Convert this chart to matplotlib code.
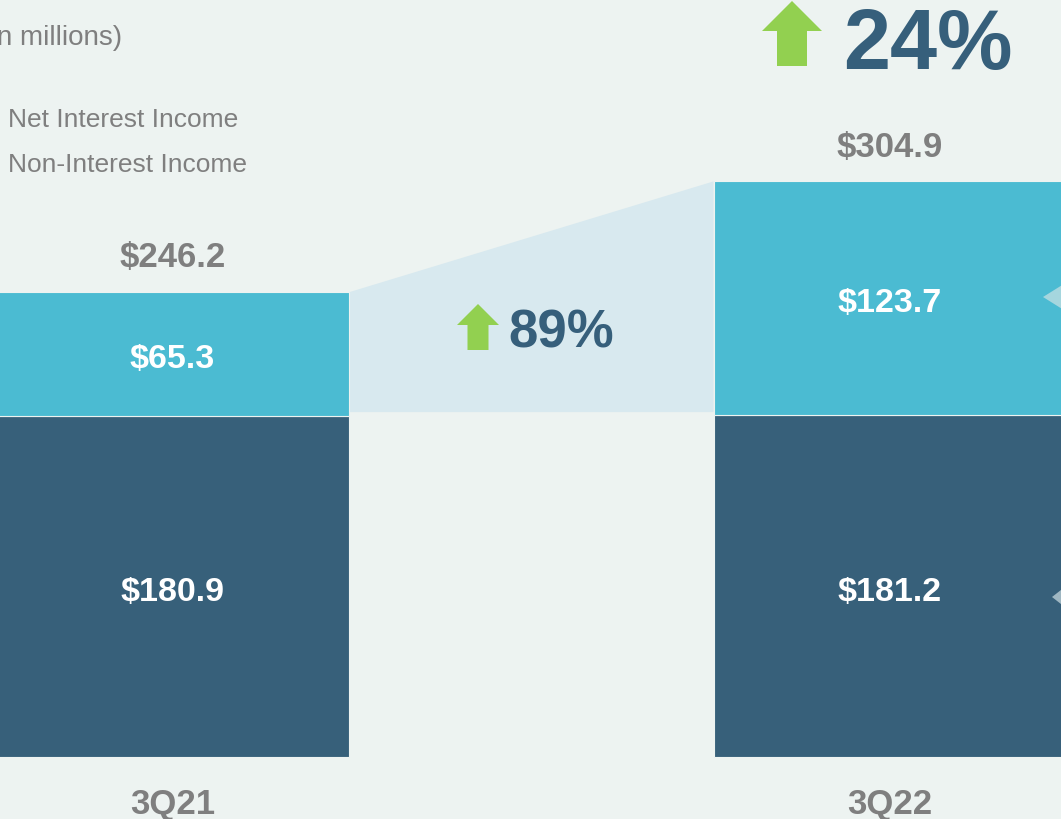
import matplotlib.pyplot as plt
from matplotlib.patches import Polygon
import numpy as np

# data
quarters = ["3Q21", "3Q22"]
net_interest = [180.9, 181.2]
non_interest = [65.3, 123.7]
totals = [246.2, 304.9]
nii_growth = "89%"
total_growth = "24%"

BG = "#edf3f1"
DARK = "#37607a"
CYAN = "#4bbbd2"
LIGHT = "#d8e9ef"
GREEN = "#92d050"
NAVY = "#365f7b"
GRAY = "#7f7f7f"

plt.rcParams['font.family'] = ['Liberation Sans', 'DejaVu Sans']

fig = plt.figure(figsize=(10.61, 8.2), dpi=100, facecolor=BG)
ax = fig.add_axes([0, 0, 1, 1])
ax.set_facecolor(BG)
ax.set_xlim(-0.2404, 1.2383)
ax.set_ylim(-32.8, 401.5)
ax.axis('off')

x = np.arange(len(quarters))
w = 0.492

# connector between the non-interest segments
xl, xr = x[0] + w / 2, x[1] - w / 2
base = max(net_interest) + 1.5
ax.add_patch(Polygon([(xl, base), (xl, totals[0]), (xr, totals[1]), (xr, base)],
                     closed=True, facecolor=LIGHT, edgecolor='none', zorder=1))

ax.bar(x, net_interest, width=w, color=DARK, edgecolor=BG, linewidth=0.8, zorder=2)
ax.bar(x, non_interest, width=w, bottom=net_interest, color=CYAN, edgecolor=BG,
       linewidth=0.8, zorder=2)

for i in range(len(quarters)):
    ax.text(x[i], net_interest[i] / 2 - 7.5, f"${net_interest[i]:.1f}", ha='center',
            va='baseline', color='white', fontsize=24.5, fontweight='bold', zorder=3)
    ax.text(x[i], net_interest[i] + non_interest[i] / 2 - 7, f"${non_interest[i]:.1f}",
            ha='center', va='baseline', color='white', fontsize=24.5, fontweight='bold', zorder=3)
    ax.text(x[i], totals[i] + 13.7, f"${totals[i]:.1f}", ha='center', va='baseline',
            color=GRAY, fontsize=25, fontweight='bold', zorder=3)
    ax.text(x[i], -29.8, quarters[i], ha='center', va='baseline', color=GRAY,
            fontsize=25, fontweight='bold', zorder=3)


def up_arrow(cx, top, width, height, head):
    # green block arrow in pixel coordinates (origin top-left)
    H = 820
    sw = width / 2
    pts = [(cx - width / 2, top + head), (cx, top), (cx + width / 2, top + head),
           (cx + sw / 2, top + head), (cx + sw / 2, top + height),
           (cx - sw / 2, top + height), (cx - sw / 2, top + head)]
    pts = [(px, H - py) for px, py in pts]
    fig.add_artist(Polygon(pts, closed=True, transform=None, facecolor=GREEN,
                           edgecolor='none', zorder=4))


# growth callouts
up_arrow(478, 305, 42, 46, 21)
fig.text(508 / 1061, 1 - 348 / 820, nii_growth, ha='left', va='baseline',
         color=NAVY, fontsize=38, fontweight='bold')
up_arrow(792, 2, 60, 65, 30)
fig.text(843 / 1061, 1 - 69 / 820, total_growth, ha='left', va='baseline',
         color=NAVY, fontsize=61, fontweight='bold')

# legend / units text
fig.text(122 / 1061, 1 - 45 / 820, "($ in millions)", ha='right', va='baseline',
         color=GRAY, fontsize=20)
fig.text(8 / 1061, 1 - 127 / 820, "Net Interest Income", ha='left', va='baseline',
         color=GRAY, fontsize=19)
fig.text(8 / 1061, 1 - 172 / 820, "Non-Interest Income", ha='left', va='baseline',
         color=GRAY, fontsize=19)

# edge pointers cut off at the right side
for tip_x, tip_y, hh, col in [(1043, 298, 12, "#a5d6de"), (1052, 598, 10, "#9fb7c2")]:
    tri = [(tip_x, 820 - tip_y), (1075, 820 - tip_y - hh - 8), (1075, 820 - tip_y + hh + 8)]
    fig.add_artist(Polygon(tri, closed=True, transform=None, facecolor=col,
                           edgecolor='none', zorder=4))

fig.savefig("out.png", dpi=100, facecolor=BG)
